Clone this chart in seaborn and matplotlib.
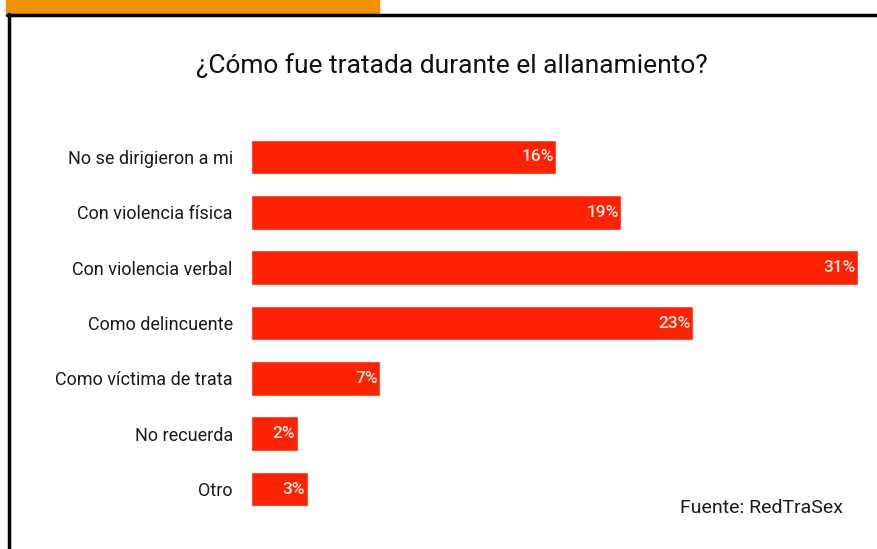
import matplotlib
matplotlib.use("Agg")
import matplotlib.pyplot as plt
import seaborn as sns
import pandas as pd
from matplotlib.patches import Rectangle
from matplotlib.lines import Line2D

# datos
categorias = ["No se dirigieron a mi", "Con violencia física", "Con violencia verbal",
              "Como delincuente", "Como víctima de trata", "No recuerda", "Otro"]
porcentajes = [15.6, 18.9, 31.0, 22.6, 6.6, 2.4, 2.9]
etiquetas = ["16%", "19%", "31%", "23%", "7%", "2%", "3%"]

titulo = "¿Cómo fue tratada durante el allanamiento?"
fuente = "Fuente: RedTraSex"

ROJO = "#FF2200"
NARANJA = "#F39200"

sns.set_style("white")
plt.rcParams["font.family"] = ["Liberation Sans Narrow", "Roboto", "DejaVu Sans"]

df = pd.DataFrame({"categoria": categorias, "valor": porcentajes})

fig = plt.figure(figsize=(8.77, 5.49), dpi=100)
ax = fig.add_axes([0.286, 0.0588, 0.714, 0.7057])

sns.barplot(data=df, x="valor", y="categoria", color=ROJO, width=0.63,
            saturation=1, ax=ax, orient="h")

ax.set_xlim(0, 31.97)
ax.set_xlabel("")
ax.set_ylabel("")
ax.set_xticks([])
ax.tick_params(axis="y", length=0, labelsize=13, pad=13, labelcolor="#1a1a1a")
for s in ax.spines.values():
    s.set_visible(False)

for bar, txt in zip(ax.patches, etiquetas):
    ax.text(bar.get_width() - 0.12, bar.get_y() + bar.get_height() / 2, txt,
            ha="right", va="center", color="#ffecE6", fontsize=12.5,
            fontweight="medium")

# marco y pestaña naranja
fig.patches.append(Rectangle((6 / 877, 1 - 13 / 549), 373 / 877, 13 / 549,
                             transform=fig.transFigure, color=NARANJA, zorder=0))
fig.lines.append(Line2D([7 / 877, 1], [1 - 15 / 549, 1 - 15 / 549],
                        transform=fig.transFigure, color="black", lw=2.5))
fig.lines.append(Line2D([8.5 / 877, 8.5 / 877], [0, 1 - 14 / 549],
                        transform=fig.transFigure, color="black", lw=2.5))

fig.text(452 / 877, 1 - 66 / 549, titulo, ha="center", va="center",
         fontsize=19, color="#111111")
fig.text(843 / 877, 1 - 508 / 549, fuente, ha="right", va="center",
         fontsize=14, color="#1a1a1a")

fig.savefig("out.png", dpi=100)
